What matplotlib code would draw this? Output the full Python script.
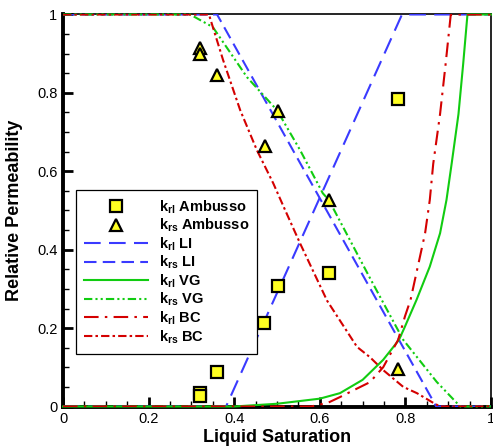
import matplotlib
matplotlib.use('Agg')
import matplotlib.pyplot as plt

plt.rcParams['font.family'] = 'Liberation Sans'
plt.rcParams['mathtext.fontset'] = 'custom'
plt.rcParams['mathtext.bf'] = 'Liberation Sans:bold'
plt.rcParams['mathtext.rm'] = 'Liberation Sans:bold'
plt.rcParams['mathtext.default'] = 'bf'

# Ambusso measurements
amb_sl = [0.32, 0.32, 0.36, 0.47, 0.502, 0.621, 0.783]
amb_krl = [0.034, 0.026, 0.088, 0.213, 0.307, 0.34, 0.784]
amb_sl_s = [0.32, 0.32, 0.36, 0.472, 0.502, 0.621, 0.783]
amb_krs = [0.914, 0.90, 0.846, 0.664, 0.754, 0.527, 0.095]

# linear model
li_rl_x = [0.0, 0.381, 0.792, 1.0]
li_rl_y = [0.0, 0.0, 1.0, 1.0]
li_rs_x = [0.0, 0.36, 0.872, 1.0]
li_rs_y = [1.0, 1.0, 0.0, 0.0]

# van Genuchten
vg_rl_x = [0.0, 0.40, 0.50, 0.60, 0.647, 0.70, 0.748, 0.785, 0.799, 0.826, 0.857, 0.881,
           0.896, 0.908, 0.924, 0.935, 0.945, 1.0]
vg_rl_y = [0.0, 0.0, 0.007, 0.02, 0.034, 0.068, 0.119, 0.170, 0.204, 0.272, 0.357, 0.442,
           0.527, 0.619, 0.746, 0.874, 1.0, 1.0]
vg_rs_x = [0.0, 0.297, 0.35, 0.43, 0.50, 0.554, 0.607, 0.621, 0.717, 0.795, 0.873, 0.928, 1.0]
vg_rs_y = [1.0, 1.0, 0.968, 0.84, 0.756, 0.654, 0.544, 0.527, 0.328, 0.170, 0.063, 0.0, 0.0]

# Brooks-Corey
bc_rl_x = [0.0, 0.58, 0.62, 0.647, 0.68, 0.717, 0.748, 0.783, 0.799, 0.812, 0.829, 0.846,
           0.857, 0.865, 0.881, 0.894, 0.906, 1.0]
bc_rl_y = [0.0, 0.0, 0.01, 0.024, 0.042, 0.062, 0.10, 0.17, 0.23, 0.272, 0.357, 0.442,
           0.527, 0.619, 0.746, 0.874, 1.0, 1.0]
bc_rs_x = [0.0, 0.341, 0.374, 0.414, 0.453, 0.491, 0.519, 0.554, 0.617, 0.687, 0.717,
           0.748, 0.795, 0.827, 0.864, 0.881, 1.0]
bc_rs_y = [1.0, 1.0, 0.884, 0.756, 0.654, 0.57, 0.501, 0.416, 0.27, 0.152, 0.126,
           0.093, 0.05, 0.034, 0.01, 0.0, 0.0]

blue = '#3a3aff'
green = '#11cc11'
red = '#d40000'

fig = plt.figure(figsize=(4.93, 4.48), dpi=100)
ax = fig.add_axes([63 / 493, 41.5 / 448, 428 / 493, 392 / 448])

lw = 1.5
ax.plot(amb_sl, amb_krl, 's', ms=8, mfc='#ffff22', mec='black', mew=1.6,
        label='k$_{rl}$ Ambusso', zorder=5, clip_on=False)
ax.plot(amb_sl_s, amb_krs, '^', ms=9, mfc='#ffff22', mec='black', mew=1.6,
        label='k$_{rs}$ Ambusso', zorder=5, clip_on=False)
ax.plot(li_rl_x, li_rl_y, color=blue, lw=lw, dashes=(8, 4), label='k$_{rl}$ LI', zorder=3)
ax.plot(li_rs_x, li_rs_y, color=blue, lw=lw, dashes=(6, 3), label='k$_{rs}$ LI', zorder=3)
ax.plot(vg_rl_x, vg_rl_y, color=green, lw=lw, label='k$_{rl}$ VG', zorder=3, clip_on=False)
ax.plot(vg_rs_x, vg_rs_y, color=green, lw=lw, dashes=(4, 1.5, 1, 1.5, 1, 1.5),
        label='k$_{rs}$ VG', zorder=3, clip_on=False)
ax.plot(bc_rl_x, bc_rl_y, color=red, lw=lw, dashes=(7, 3, 1.2, 3), label='k$_{rl}$ BC', zorder=3)
ax.plot(bc_rs_x, bc_rs_y, color=red, lw=lw, dashes=(4, 1.5, 1.2, 1.5),
        label='k$_{rs}$ BC', zorder=3)

ax.set_xlim(0, 1)
ax.set_ylim(0, 1)
ax.set_xticks([0, 0.2, 0.4, 0.6, 0.8, 1])
ax.set_xticklabels(['0', '0.2', '0.4', '0.6', '0.8', '1'])
ax.set_yticks([0, 0.2, 0.4, 0.6, 0.8, 1])
ax.set_yticklabels(['0', '0.2', '0.4', '0.6', '0.8', '1'])
ax.set_xticks([i * 0.05 for i in range(21)], minor=True)
ax.set_yticks([i * 0.05 for i in range(21)], minor=True)
ax.tick_params(which='major', direction='in', length=7, width=2, labelsize=10.5, pad=4)
ax.tick_params(which='minor', direction='in', length=4, width=1)
ax.tick_params(top=False, right=False, which='both')

ax.spines['left'].set_linewidth(2.8)
ax.spines['bottom'].set_linewidth(2.8)
ax.spines['top'].set_linewidth(1.2)
ax.spines['right'].set_linewidth(1.2)

ax.set_xlabel('Liquid Saturation', fontsize=13, fontweight='bold', labelpad=2)
ax.set_ylabel('Relative Permeability', fontsize=13, fontweight='bold', labelpad=10)

leg = ax.legend(loc='upper left', bbox_to_anchor=(0.03, 0.552), borderaxespad=0,
                fancybox=False, edgecolor='black', framealpha=1,
                handlelength=4.4, handletextpad=0.75, labelspacing=0.08,
                borderpad=0.55, prop={'weight': 'bold', 'size': 10.5})
leg.get_frame().set_linewidth(0.9)

fig.savefig('out.png', dpi=100)
